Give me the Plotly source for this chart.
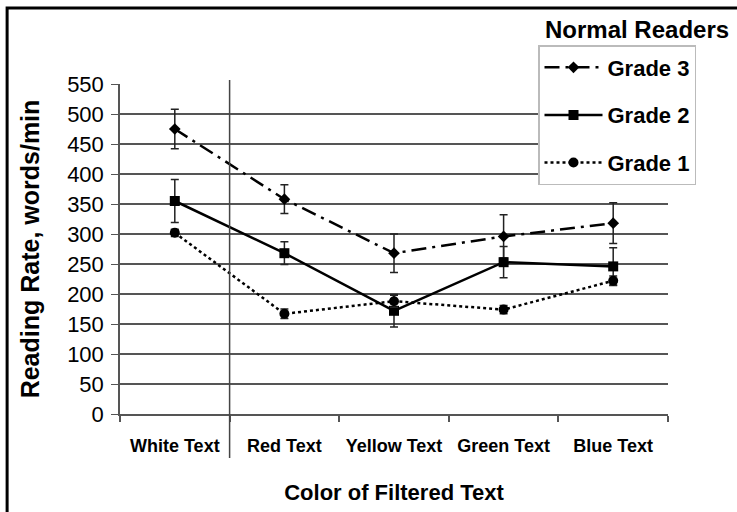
import plotly.graph_objects as go

categories = ["White Text", "Red Text", "Yellow Text", "Green Text", "Blue Text"]
grade3 = [475, 358, 268, 296, 318]
grade3_err = [33, 24, 32, 36, 34]
grade2 = [355, 268, 172, 253, 246]
grade2_err = [36, 19, 27, 26, 31]
grade1 = [302, 167, 188, 174, 222]
grade1_err = [6, 8, 10, 7, 8]
y_ticks = list(range(0, 551, 50))

FONT = "Liberation Sans, Arial, sans-serif"

series = [
    ("Grade 3", grade3, grade3_err, "longdashdot", "diamond", 9),
    ("Grade 2", grade2, grade2_err, "solid", "square", 10),
    ("Grade 1", grade1, grade1_err, "dot", "circle", 10),
]

fig = go.Figure()
for name, vals, errs, dash, sym, size in series:
    fig.add_trace(go.Scatter(
        x=categories, y=vals, name=name, mode="lines+markers",
        legendgroup=name,
        line=dict(color="black", width=2.5, dash=dash),
        marker=dict(symbol=sym, size=size, color="black"),
        error_y=dict(type="data", array=errs, visible=True,
                     color="#222222", thickness=1.5, width=4),
    ))

fig.update_layout(
    width=737, height=512,
    margin=dict(l=120, r=69, t=84, b=98, autoexpand=False),
    plot_bgcolor="white", paper_bgcolor="white",
    showlegend=True,
    legend=dict(
        x=538 / 737, y=1 - 45 / 512, xref="container", yref="container",
        xanchor="left", yanchor="top",
        bgcolor="white", bordercolor="#bbbbbb", borderwidth=1.5,
        font=dict(family=FONT, size=22, color="black", weight="bold"),
        tracegroupgap=16, itemwidth=58,
    ),
    font=dict(family=FONT, color="black"),
)
fig.update_xaxes(
    type="category", range=[-0.5, 4.5], automargin=False, tickangle=0,
    showline=True, linecolor="#555555", linewidth=2,
    ticks="outside", tickson="boundaries", ticklen=6, tickcolor="#555555", tickwidth=1.5,
    ticklabelstandoff=14,
    tickfont=dict(family=FONT, size=18, color="black", weight="bold"),
    showgrid=False,
    title=dict(text="Color of Filtered Text", standoff=30,
               font=dict(family=FONT, size=22, color="black", weight="bold")),
)
fig.update_yaxes(
    range=[0, 550], tickvals=y_ticks, automargin=False,
    showline=True, linecolor="#555555", linewidth=1.5,
    ticks="outside", ticklen=7, tickcolor="#555555",
    ticklabelstandoff=3,
    showgrid=True, gridcolor="#555555", gridwidth=2,
    tickfont=dict(family=FONT, size=22, color="black"),
    title=dict(text="Reading Rate, words/min", standoff=20,
               font=dict(family=FONT, size=25, color="black", weight="bold")),
)
# vertical separator between White Text and the filtered colours
fig.add_shape(type="line", xref="x", yref="paper", x0=0.5, x1=0.5, y0=-0.133, y1=1.012,
              line=dict(color="#444444", width=1.5))
# outer frame
fig.add_shape(type="rect", xref="paper", yref="paper", x0=-0.206, x1=1.15, y0=-0.4, y1=1.230,
              line=dict(color="black", width=3))
fig.add_annotation(text="<b>Normal Readers</b>", xref="paper", yref="paper",
                   x=0.943, y=1.164, showarrow=False, xanchor="center", yanchor="middle",
                   font=dict(family=FONT, size=24, color="black"))

fig.write_html("out.html", config={"displayModeBar": False},
               post_script="document.body.style.margin='0';")
